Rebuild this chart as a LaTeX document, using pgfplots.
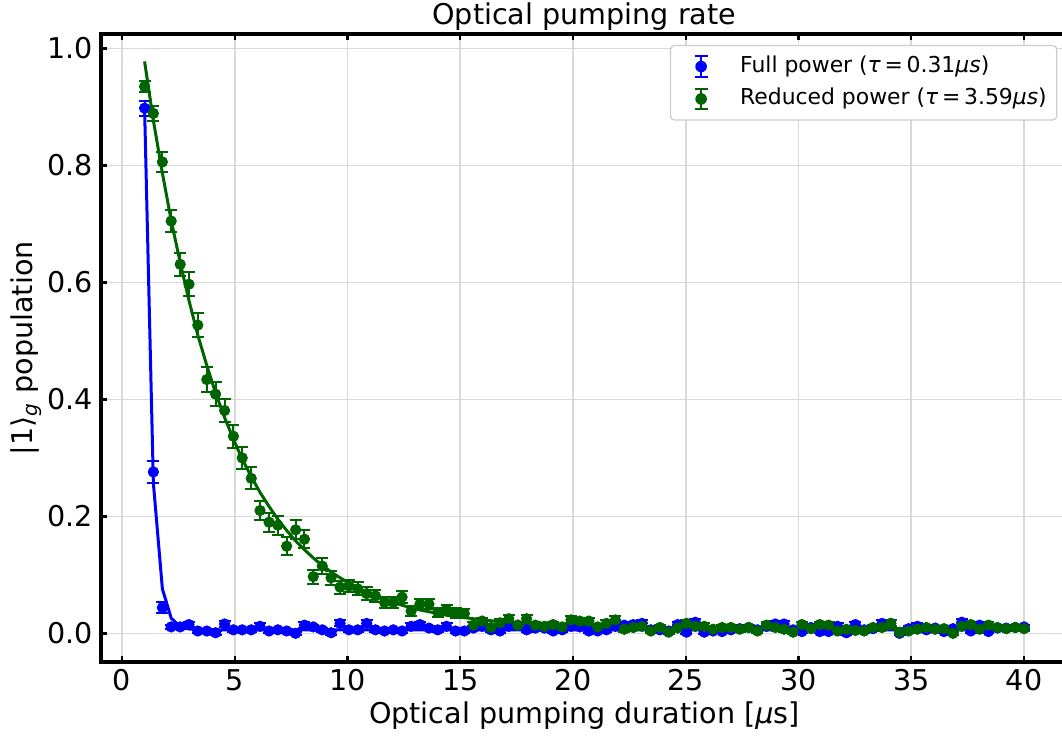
\documentclass[border=0pt]{standalone}
\usepackage{fontspec}
\setmainfont{DejaVu Sans}
\usepackage{pgfplots}
\pgfplotsset{compat=1.18}
\usepackage{pgfplotstable}

\definecolor{mblue}{RGB}{0,0,255}
\definecolor{mgreen}{RGB}{0,100,0}

\newcommand{\ebicon}[1]{%
  \path[draw=none, fill=none] (0pt,-7pt) rectangle (29.8pt,7pt);
  \draw[#1, line width=1pt] (12.9pt,-5.2pt) -- (12.9pt,5.2pt);
  \draw[#1, line width=1pt] (9.6pt,-5.2pt) -- (16.2pt,-5.2pt);
  \draw[#1, line width=1pt] (9.6pt,5.2pt) -- (16.2pt,5.2pt);
  \fill[#1, draw=none] (12.9pt,0pt) circle (2.9pt);
}

\pgfplotstableread{
x y e
1.00 0.898 0.013
1.39 0.276 0.019
1.79 0.044 0.009
2.18 0.011 0.004
2.58 0.011 0.004
2.97 0.015 0.005
3.36 0.004 0.003
3.76 0.004 0.003
4.15 0.001 0.003
4.55 0.016 0.005
4.94 0.006 0.003
5.33 0.006 0.003
5.73 0.006 0.003
6.12 0.012 0.005
6.52 0.004 0.003
6.91 0.006 0.003
7.30 0.004 0.003
7.70 0.000 0.003
8.09 0.014 0.005
8.48 0.011 0.004
8.88 0.006 0.003
9.27 0.001 0.003
9.67 0.017 0.005
10.06 0.006 0.003
10.45 0.006 0.003
10.85 0.017 0.005
11.24 0.006 0.003
11.64 0.004 0.003
12.03 0.006 0.003
12.42 0.004 0.003
12.82 0.012 0.005
13.21 0.015 0.005
13.61 0.009 0.004
14.00 0.006 0.003
14.39 0.012 0.005
14.79 0.004 0.003
15.18 0.004 0.003
15.58 0.009 0.004
15.97 0.012 0.005
16.36 0.006 0.003
16.76 0.004 0.003
17.15 0.012 0.005
17.55 0.014 0.005
17.94 0.006 0.003
18.33 0.009 0.004
18.73 0.009 0.004
19.12 0.004 0.003
19.52 0.006 0.003
19.91 0.012 0.005
20.30 0.011 0.004
20.70 0.004 0.003
21.09 0.004 0.003
21.48 0.006 0.003
21.88 0.012 0.005
22.27 0.014 0.005
22.67 0.015 0.005
23.06 0.017 0.005
23.45 0.006 0.003
23.85 0.006 0.003
24.24 0.004 0.003
24.64 0.015 0.005
25.03 0.002 0.003
25.42 0.019 0.006
25.82 0.002 0.003
26.21 0.004 0.003
26.61 0.003 0.003
27.00 0.006 0.003
27.39 0.008 0.004
27.79 0.010 0.004
28.18 0.006 0.003
28.58 0.012 0.005
28.97 0.016 0.005
29.36 0.016 0.005
29.76 0.006 0.003
30.15 0.003 0.003
30.55 0.010 0.004
30.94 0.003 0.003
31.33 0.003 0.003
31.73 0.012 0.005
32.12 0.001 0.003
32.52 0.015 0.005
32.91 0.006 0.003
33.30 0.008 0.004
33.70 0.017 0.005
34.09 0.017 0.005
34.48 0.000 0.003
34.88 0.008 0.004
35.27 0.012 0.005
35.67 0.006 0.003
36.06 0.009 0.004
36.45 0.003 0.003
36.85 0.008 0.004
37.24 0.019 0.006
37.64 0.004 0.003
38.03 0.014 0.005
38.42 0.003 0.003
38.82 0.009 0.004
39.21 0.009 0.004
39.61 0.010 0.004
40.00 0.011 0.004
}\bluedata

\pgfplotstableread{
x y
1.00 0.899
1.39 0.257
1.79 0.076
2.18 0.026
2.58 0.0115
2.97 0.0075
3.36 0.0064
3.76 0.0061
40.00 0.0060
}\bluefit

\pgfplotstableread{
x y e
1.00 0.935 0.010
1.39 0.889 0.013
1.79 0.806 0.017
2.18 0.705 0.019
2.58 0.631 0.020
2.97 0.597 0.021
3.36 0.527 0.021
3.76 0.434 0.021
4.15 0.409 0.021
4.55 0.381 0.020
4.94 0.337 0.020
5.33 0.300 0.019
5.73 0.265 0.019
6.12 0.210 0.017
6.52 0.190 0.016
6.91 0.185 0.016
7.30 0.149 0.015
7.70 0.177 0.016
8.09 0.161 0.015
8.48 0.097 0.012
8.88 0.115 0.013
9.27 0.095 0.012
9.67 0.079 0.011
10.06 0.081 0.011
10.45 0.076 0.011
10.85 0.068 0.011
11.24 0.064 0.010
11.64 0.053 0.009
12.03 0.053 0.009
12.42 0.062 0.010
12.82 0.038 0.008
13.21 0.050 0.009
13.61 0.050 0.009
14.00 0.036 0.008
14.39 0.040 0.008
14.79 0.035 0.008
15.18 0.034 0.008
15.58 0.014 0.005
15.97 0.021 0.006
16.36 0.010 0.004
16.76 0.018 0.006
17.15 0.025 0.007
17.55 0.014 0.005
17.94 0.025 0.007
18.33 0.014 0.005
18.73 0.012 0.005
19.12 0.015 0.005
19.52 0.011 0.004
19.91 0.023 0.006
20.30 0.021 0.006
20.70 0.021 0.006
21.09 0.011 0.004
21.48 0.017 0.005
21.88 0.023 0.006
22.27 0.007 0.004
22.67 0.010 0.004
23.06 0.012 0.005
23.45 0.004 0.003
23.85 0.010 0.004
24.24 0.002 0.003
24.64 0.009 0.004
25.03 0.017 0.005
25.42 0.012 0.005
25.82 0.012 0.005
26.21 0.007 0.004
26.61 0.010 0.004
27.00 0.010 0.004
27.39 0.007 0.004
27.79 0.010 0.004
28.18 0.004 0.003
28.58 0.014 0.005
28.97 0.010 0.004
29.36 0.007 0.004
29.76 0.002 0.003
30.15 0.015 0.005
30.55 0.008 0.004
30.94 0.015 0.005
31.33 0.014 0.005
31.73 0.004 0.003
32.12 0.007 0.004
32.52 0.005 0.003
32.91 0.004 0.003
33.30 0.010 0.004
33.70 0.010 0.004
34.09 0.017 0.005
34.48 0.002 0.003
34.88 0.004 0.003
35.27 0.007 0.004
35.67 0.010 0.004
36.06 0.007 0.004
36.45 0.008 0.004
36.85 0.000 0.003
37.24 0.012 0.005
37.64 0.015 0.005
38.03 0.007 0.004
38.42 0.014 0.005
38.82 0.010 0.004
39.21 0.008 0.004
39.61 0.010 0.004
40.00 0.008 0.004
}\greendata

\pgfplotstableread{
x y
1.00 0.978
1.39 0.877
1.79 0.787
2.18 0.706
2.58 0.634
2.97 0.569
3.36 0.510
3.76 0.458
4.15 0.411
4.55 0.369
4.94 0.332
5.33 0.298
5.73 0.268
6.12 0.241
6.52 0.217
6.91 0.195
7.30 0.176
7.70 0.158
8.09 0.143
8.48 0.129
8.88 0.116
9.27 0.105
9.67 0.095
10.06 0.086
10.45 0.078
10.85 0.0705
11.24 0.064
11.64 0.058
12.03 0.053
12.42 0.048
12.82 0.044
13.21 0.040
13.61 0.037
14.00 0.034
14.39 0.031
14.79 0.029
15.18 0.027
15.58 0.025
15.97 0.023
16.36 0.0215
16.76 0.020
17.15 0.0188
17.55 0.0177
17.94 0.0166
18.33 0.0158
18.73 0.015
19.12 0.0142
19.52 0.0136
19.91 0.013
20.30 0.0125
20.70 0.012
22.67 0.0103
24.64 0.0093
28.58 0.0084
40.00 0.0080
}\greenfit

\begin{document}
\begin{tikzpicture}
\begin{axis}[
  scale only axis,
  width=483.7pt, height=313.75pt,
  xmin=-0.95, xmax=41.95, ymin=-0.049, ymax=1.024,
  xtick={0,5,10,15,20,25,30,35,40},
  ytick={0,0.2,0.4,0.6,0.8,1.0},
  ytick pos=left,
  tick align=inside,
  major tick length=3pt,
  every tick/.style={black, line width=1.2pt},
  axis line style={line width=2pt},
  grid=major,
  major grid style={line width=0.8pt, black!15},
  /pgf/number format/assume math mode=true,
  tick label style={font=\fontsize{14.3}{17}\selectfont},
  yticklabel style={/pgf/number format/fixed, /pgf/number format/fixed zerofill, /pgf/number format/precision=1, anchor=east, inner sep=0pt, xshift=-3.8pt},
  xticklabel style={anchor=base, inner sep=0pt, yshift=-14pt},
  title={Optical pumping rate},
  title style={font=\fontsize{14.3}{17}\selectfont, at={(axis description cs:0.5,1)}, anchor=base, yshift=-1.25pt},
  xlabel={Optical pumping duration [\textit{μ}s]},
  xlabel style={font=\fontsize{14.3}{17}\selectfont, at={(axis description cs:0.5,0)}, anchor=base, yshift=-30.7pt},
  ylabel={|1⟩\textsubscript{\textit{g}} population},
  ylabel style={font=\fontsize{14.3}{17}\selectfont, at={(axis description cs:-0.0699,0.5)}, anchor=base},
  legend cell align=left,
  legend style={at={(axis description cs:0.989,0.9833)}, anchor=north east,
    draw=black!20, line width=0.6pt, rounded corners=2pt, fill=white,
    font=\fontsize{10.95}{13.2}\selectfont, inner sep=2.4pt,
    row sep=0pt, column sep=0pt,
    nodes={inner sep=2.6pt, text height=8.5pt, text depth=2.5pt}},
]
\addplot[mblue, only marks, mark=*, mark size=2.6pt, forget plot,
  error bars/.cd, y dir=both, y explicit,
  error bar style={line width=1pt, mblue},
  error mark options={line width=1pt, mark size=3pt, mblue, rotate=90}]
  table[x=x, y=y, y error=e] {\bluedata};
\addplot[mblue, line width=1.5pt, mark=none, forget plot] table[x=x, y=y] {\bluefit};
\addplot[mgreen, only marks, mark=*, mark size=2.6pt, forget plot,
  error bars/.cd, y dir=both, y explicit,
  error bar style={line width=1pt, mgreen},
  error mark options={line width=1pt, mark size=3pt, mgreen, rotate=90}]
  table[x=x, y=y, y error=e] {\greendata};
\addplot[mgreen, line width=1.5pt, mark=none, forget plot] table[x=x, y=y] {\greenfit};
\addlegendimage{legend image code/.code={\ebicon{mblue}}}
\addlegendentry{Full power (\textit{τ}\,=\,0.31\textit{μs})}
\addlegendimage{legend image code/.code={\ebicon{mgreen}}}
\addlegendentry{Reduced power (\textit{τ}\,=\,3.59\textit{μs})}
\coordinate (SW) at (rel axis cs:0,0);
\coordinate (NE) at (rel axis cs:1,1);
\end{axis}
\pgfresetboundingbox
\path[use as bounding box] ([xshift=-50.3pt, yshift=-37.5pt]SW) rectangle ([xshift=-3pt, yshift=17.25pt]NE);
\end{tikzpicture}
\end{document}
